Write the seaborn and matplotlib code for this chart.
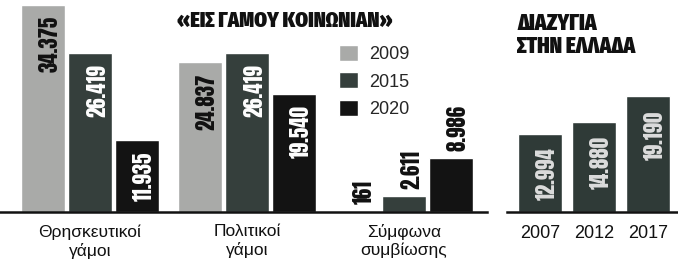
import matplotlib
matplotlib.use('Agg')
import matplotlib.pyplot as plt
import seaborn as sns
import pandas as pd
from matplotlib import font_manager, ft2font
from matplotlib.font_manager import FontProperties

# data
categories = ['Θρησκευτικοί\nγάμοι', 'Πολιτικοί\nγάμοι', 'Σύμφωνα\nσυμβίωσης']
years = ['2009', '2015', '2020']
values_2009 = [34375, 24837, 161]
values_2015 = [26419, 26419, 2611]
values_2020 = [11935, 19540, 8986]

divorce_years = ['2007', '2012', '2017']
divorce_values = [12994, 14880, 19190]

colors = {'2009': '#a9aaa8', '2015': '#353f3c', '2020': '#131313'}
label_colors = {'2009': '#111111', '2015': 'white', '2020': 'white'}

sns.set_style('white')
plt.rcParams['font.family'] = ['Liberation Sans', 'DejaVu Sans']


def pick_font(families, chars, weight=900):
    # first installed family that has all the glyphs, heaviest face near weight
    for name in families:
        faces = [f for f in font_manager.fontManager.ttflist
                 if f.name == name and f.style == 'normal']
        faces.sort(key=lambda f: abs(int(f.weight) - weight))
        for f in faces:
            try:
                cmap = ft2font.FT2Font(f.fname).get_charmap()
            except Exception:
                continue
            if all(ord(c) in cmap for c in chars):
                return FontProperties(fname=f.fname)
    return FontProperties(family='DejaVu Sans', weight='bold')


title_font = pick_font(['Fira Sans Extra Condensed', 'Roboto Condensed',
                        'Fira Sans Condensed', 'Open Sans Condensed', 'Noto Sans'],
                       '«ΕΙΣΓΑΜΟΥΚΝΩΔΖΤΗΛ»', 900)
num_font = pick_font(['Anton', 'Oswald', 'Fira Sans Extra Condensed'], '0123456789.', 900)


def fmt(v):
    return f'{v:,}'.replace(',', '.')


df = pd.DataFrame({
    'category': categories * 3,
    'year': [y for y in years for _ in categories],
    'value': values_2009 + values_2015 + values_2020,
})

fig = plt.figure(figsize=(6.78, 2.6), dpi=100)
ymax = 35216

# marriages panel
ax = fig.add_axes([0, 48 / 260, 487 / 678, 212 / 260])
sns.barplot(data=df, x='category', y='value', hue='year', hue_order=years,
            palette=colors, width=0.9, gap=0.08, saturation=1, ax=ax)
ax.set_xlim(-0.573, 2.529)
ax.set_ylim(0, ymax)

for year, cont in zip(years, ax.containers):
    for rect in cont:
        h = rect.get_height()
        x = rect.get_x() + rect.get_width() / 2
        if h > 10000:
            ax.annotate(fmt(int(h)), (x, h), xytext=(5, -8), textcoords='offset points',
                        rotation=90, ha='center', va='top', fontproperties=num_font,
                        fontsize=15, color=label_colors[year])
        else:
            ax.annotate(fmt(int(h)), (x, h), xytext=(5, 5), textcoords='offset points',
                        rotation=90, ha='center', va='bottom', fontproperties=num_font,
                        fontsize=15, color='#111111')

ax.legend(loc='upper left', bbox_to_anchor=(339 / 678, 1 - 45 / 260),
          bbox_transform=fig.transFigure, frameon=False, fontsize=13,
          handlelength=1.05, handleheight=1.0, handletextpad=0.6,
          labelspacing=0.5, borderpad=0, borderaxespad=0)

# divorces panel
ax2 = fig.add_axes([507 / 678, 48 / 260, 171 / 678, 212 / 260])
sns.barplot(x=divorce_years, y=divorce_values, color='#2f3a37', width=0.82,
            saturation=1, ax=ax2)
ax2.set_xlim(-0.615, 2.55)
ax2.set_ylim(0, ymax)
for rect in ax2.containers[0]:
    h = rect.get_height()
    x = rect.get_x() + rect.get_width() / 2
    ax2.annotate(fmt(int(h)), (x, h), xytext=(5, -10), textcoords='offset points',
                 rotation=90, ha='center', va='top', fontproperties=num_font,
                 fontsize=15, color='#dcdcdc')

for a in (ax, ax2):
    a.set_xlabel('')
    a.set_ylabel('')
    a.set_yticks([])
    for s in ['top', 'left', 'right']:
        a.spines[s].set_visible(False)
    a.spines['bottom'].set_linewidth(1.8)
    a.spines['bottom'].set_color('#111111')
    a.tick_params(axis='x', length=0, pad=9, labelcolor='#111111')
ax.tick_params(axis='x', labelsize=12.5)
ax2.tick_params(axis='x', labelsize=13)

fig.text(285 / 678, 1 - 21 / 260, '«ΕΙΣ ΓΑΜΟΥ ΚΟΙΝΩΝΙΑΝ»', ha='center', va='center',
         fontproperties=title_font, fontsize=16, color='#111111')
fig.text(517 / 678, 1 - 12 / 260, 'ΔΙΑΖΥΓΙΑ\nΣΤΗΝ ΕΛΛΑΔΑ', ha='left', va='top',
         fontproperties=title_font, fontsize=16.5, color='#111111',
         linespacing=1.0)

fig.savefig('out.png', dpi=100)
